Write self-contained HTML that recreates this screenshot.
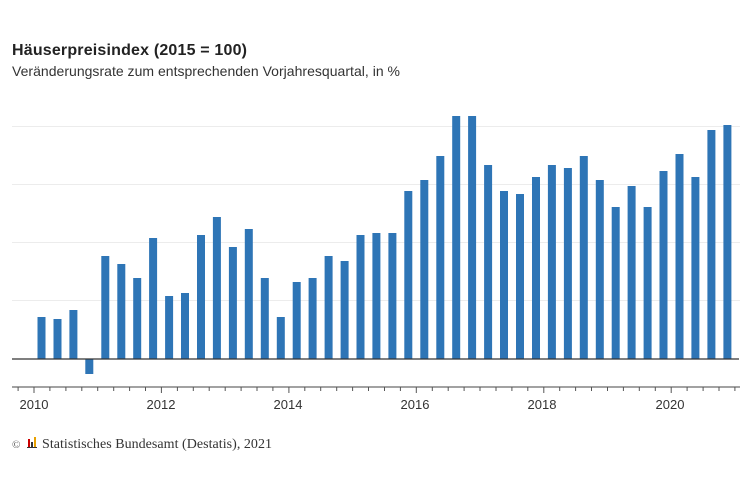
<!DOCTYPE html>
<html><head><meta charset="utf-8"><style>
html,body{margin:0;padding:0;background:#fff;width:750px;height:482px;overflow:hidden}
</style></head><body>
<svg width="750" height="482" xmlns="http://www.w3.org/2000/svg" font-family="Liberation Sans, sans-serif">
<text x="12" y="55" font-size="16" font-weight="bold" fill="#222" textLength="235">Häuserpreisindex (2015 = 100)</text>
<text x="12" y="76" font-size="14" fill="#333" textLength="388">Veränderungsrate zum entsprechenden Vorjahresquartal, in %</text>
<g stroke="#ececec" stroke-width="1">
<line x1="12" x2="740" y1="126.5" y2="126.5"/>
<line x1="12" x2="740" y1="184.5" y2="184.5"/>
<line x1="12" x2="740" y1="242.5" y2="242.5"/>
<line x1="12" x2="740" y1="300.5" y2="300.5"/>
</g>
<g id="bars" fill="#2e75b6"></g>
<line x1="12" x2="739" y1="359" y2="359" stroke="#333" stroke-width="1.2"/>
<line x1="12" x2="740" y1="387" y2="387" stroke="#444" stroke-width="1"/>
<g id="ticks" stroke="#555" stroke-width="1"></g>
<g font-size="13" fill="#333" text-anchor="middle">
<text x="34" y="409">2010</text><text x="161" y="409">2012</text><text x="288" y="409">2014</text>
<text x="415" y="409">2016</text><text x="542" y="409">2018</text><text x="670" y="409">2020</text>
</g>
<text x="12" y="448" font-size="11" fill="#555" font-family="Liberation Serif, serif">©</text>
<rect x="28" y="439" width="2" height="8" fill="#c00"/><rect x="31" y="442" width="2" height="5" fill="#333"/><rect x="34" y="437" width="2" height="10" fill="#e8a000"/><rect x="27" y="447" width="10" height="1" fill="#333"/>
<text x="42" y="448" font-size="14" fill="#333" font-family="Liberation Serif, serif" textLength="230">Statistisches Bundesamt (Destatis), 2021</text>
</svg>
<script>
var tops=[317,319,310,374,256,264,278,238,296,293,235,217,247,229,278,317,282,278,256,261,235,233,233,191,180,156,116,116,165,191,194,177,165,168,156,180,207,186,207,171,154,177,130,125];
var g=document.getElementById('bars'),s='';
for(var i=0;i<tops.length;i++){var cx=41.5+i*15.95,t=tops[i];var y=Math.min(t,359),h=Math.abs(359-t);
s+='<rect x="'+(cx-4).toFixed(1)+'" y="'+y+'" width="8" height="'+h+'"/>';}
g.innerHTML=s;
var tk='';for(var k=-1;k<45;k++){var x=34+k*15.93;if(x<12||x>740)continue;var maj=(k%8==0);
tk+='<line x1="'+x.toFixed(1)+'" x2="'+x.toFixed(1)+'" y1="387" y2="'+(maj?393:391)+'"/>';}
document.getElementById('ticks').innerHTML=tk;
</script>
</body></html>
